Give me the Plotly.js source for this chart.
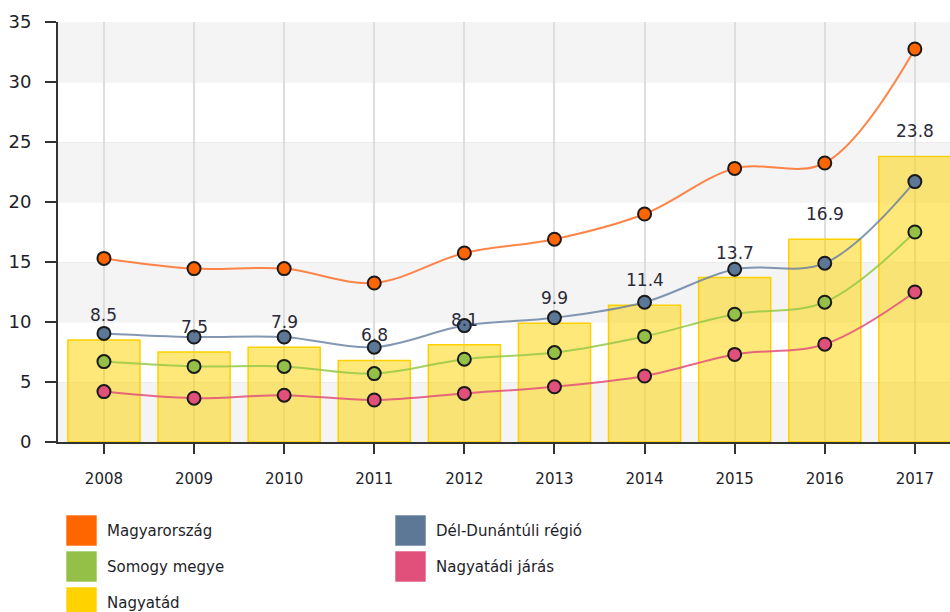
<!DOCTYPE html>
<html>
<head>
<meta charset="utf-8">
<script src="https://cdn.plot.ly/plotly-3.0.1.min.js"></script>
<style>
html,body{margin:0;padding:0;background:#fff;}
#chart{width:950px;height:612px;}
</style>
</head>
<body>
<div id="chart"></div>
<script>
// ---- data ----
const years = ['2008','2009','2010','2011','2012','2013','2014','2015','2016','2017'];
const magyarorszag = [15.3, 14.45, 14.45, 13.25, 15.75, 16.9, 19.0, 22.8, 23.25, 32.75];
const delDunantuliRegio = [9.05, 8.75, 8.75, 7.9, 9.7, 10.35, 11.65, 14.4, 14.9, 21.7];
const somogyMegye = [6.7, 6.3, 6.3, 5.7, 6.9, 7.45, 8.8, 10.65, 11.65, 17.5];
const nagyatadiJaras = [4.2, 3.65, 3.9, 3.5, 4.05, 4.6, 5.5, 7.3, 8.15, 12.5];
const nagyatad = [8.5, 7.5, 7.9, 6.8, 8.1, 9.9, 11.4, 13.7, 16.9, 23.8];
const yTicks = [0, 5, 10, 15, 20, 25, 30, 35];

const seriesNames = ['Magyarország', 'Dél-Dunántúli régió', 'Somogy megye', 'Nagyatádi járás', 'Nagyatád'];
const seriesColors = ['#ff6600', '#5d7797', '#94c047', '#e0507a', '#ffd200'];
const lineColors = ['rgba(255,110,40,0.85)', 'rgba(100,125,160,0.8)', 'rgba(150,200,70,0.85)', 'rgba(225,80,122,0.85)'];

// ---- layout geometry ----
const W = 950, H = 612;
const M = {l: 58, r: 0, t: 22, b: 170, pad: 0};
const plotW = W - M.l - M.r, plotH = H - M.t - M.b;
const px2x = px => (px - M.l) / plotW;
const px2y = py => (H - M.b - py) / plotH;

const lineSeries = [magyarorszag, delDunantuliRegio, somogyMegye, nagyatadiJaras];

const traces = [];
traces.push({
  type: 'bar', x: years, y: nagyatad, name: seriesNames[4], width: 0.8,
  marker: {color: 'rgba(255,210,0,0.52)', line: {color: '#ffd000', width: 1.5}},
  hoverinfo: 'y', showlegend: false
});
lineSeries.forEach((vals, i) => {
  traces.push({
    type: 'scatter', mode: 'lines+markers', x: years, y: vals, name: seriesNames[i],
    line: {color: lineColors[i], width: 2, shape: 'spline', smoothing: 1},
    marker: {color: seriesColors[i], size: 13, line: {color: '#1a1a1a', width: 2}},
    showlegend: false
  });
});

const shapes = [];
// alternating background bands
for (let k = 0; k < yTicks.length - 1; k += 2) {
  shapes.push({type: 'rect', xref: 'paper', yref: 'y', x0: 0, x1: 1, y0: yTicks[k], y1: yTicks[k + 1],
    fillcolor: 'rgba(0,0,0,0.045)', line: {width: 0}, layer: 'below'});
}

const annotations = [];
// value labels above bars (category index on the x axis)
nagyatad.forEach((v, i) => {
  annotations.push({x: i, y: v, xref: 'x', yref: 'y', text: String(v), showarrow: false,
    yanchor: 'middle', xanchor: 'center', yshift: 25,
    font: {family: 'DejaVu Sans', size: 17, color: '#2a2a38'}});
});

// custom legend
const legCols = [66, 395], legRows = [515, 551, 587], sw = 31, legTextOff = 39;
seriesNames.forEach((name, i) => {
  const c = i % 2, r = Math.floor(i / 2);
  const x0 = legCols[c], y0 = legRows[r];
  shapes.push({type: 'rect', xref: 'paper', yref: 'paper',
    x0: px2x(x0), x1: px2x(x0 + sw), y0: px2y(y0), y1: px2y(y0 + sw),
    fillcolor: seriesColors[i], line: {color: 'rgba(255,255,255,0.6)', width: 1}});
  annotations.push({xref: 'paper', yref: 'paper', x: px2x(x0 + legTextOff), y: px2y(y0 + sw / 2),
    xanchor: 'left', yanchor: 'middle', text: name, showarrow: false,
    font: {family: 'DejaVu Sans', size: 15, color: '#1e1e2a'}});
});

const layout = {
  width: W, height: H, margin: M,
  paper_bgcolor: '#fff', plot_bgcolor: '#fff',
  showlegend: false,
  xaxis: {
    type: 'category', range: [-0.51, 9.39],
    showgrid: true, gridcolor: '#dedede', gridwidth: 2,
    showline: true, linecolor: '#333', linewidth: 2,
    ticks: 'outside', ticklen: 10, tickwidth: 2, tickcolor: '#333',
    ticklabelstandoff: 12,
    tickfont: {family: 'DejaVu Sans', size: 15, color: '#1e1e2a'},
    fixedrange: true
  },
  yaxis: {
    range: [0, 35], tickvals: yTicks,
    showgrid: true, gridcolor: 'rgba(0,0,0,0.03)', gridwidth: 1,
    zeroline: false,
    showline: true, linecolor: '#333', linewidth: 2,
    ticks: 'outside', ticklen: 11, tickwidth: 2, tickcolor: '#333',
    ticklabelstandoff: 10,
    tickfont: {family: 'DejaVu Sans', size: 18, color: '#1e1e2a'},
    fixedrange: true
  },
  shapes: shapes,
  annotations: annotations,
  bargap: 0.2
};

Plotly.newPlot('chart', traces, layout, {displayModeBar: false, staticPlot: true});
</script>
</body>
</html>
